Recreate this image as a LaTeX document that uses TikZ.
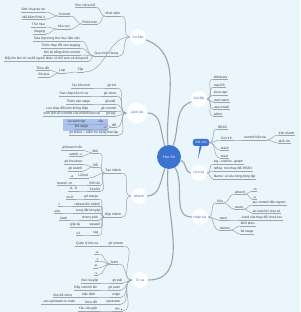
\documentclass[tikz,border=0pt]{standalone}
\usepackage{fontspec}
\setmainfont{Liberation Sans}
\definecolor{bgblue}{HTML}{EAF5FC}
\definecolor{hubblue}{HTML}{3C72D0}
\definecolor{boxblue}{HTML}{A9C2F2}
\definecolor{lineclr}{HTML}{9CA4AC}
\definecolor{txtgray}{HTML}{3A3F44}
\definecolor{topicblue}{HTML}{3866C8}
\begin{document}
\begin{tikzpicture}[x=1pt, y=-1pt,
    link/.style={draw=lineclr, line width=0.5pt},
    trunk/.style={draw=lineclr, line width=1.1pt},
    lab/.style={anchor=south east, inner sep=0.6pt, text=txtgray, font=\fontsize{3.3}{3.6}\selectfont,
        append after command={(\tikzlastnode.south west) edge[link] (\tikzlastnode.south east)}},
    rab/.style={lab, anchor=south west},
    branch/.style={circle, fill=white, text=topicblue, inner sep=0.5pt, minimum size=16, font=\fontsize{3.3}{3.6}\selectfont},
    hub/.style={circle, fill=hubblue, text=white, inner sep=0.5pt, minimum size=24, font=\fontsize{3.6}{4}\selectfont},
    memo/.style={rounded corners=2.5, fill=hubblue, text=white, inner xsep=2.5, inner ysep=1, minimum height=7, font=\fontsize{3.3}{3.6}\selectfont}]
    \useasboundingbox (0,0) rectangle (300,312);
    \fill[bgblue] (0,0) rectangle (300,312);

    % Centre
    \node[hub] (root) at (169,157) {Học Git};

    % Basics
    \node[branch] (basics) at (138,37) {Cơ bản};
    \node[lab] (ga) at (121,16) {Khái niệm};
    \node[lab] (ga1) at (96,7) {Kho chứa mã};
    \node[lab] (ga2) at (98,24) {Phiên bản};
    \node[lab] (ga21) at (71,16) {Commit};
    \node[lab] (ga22) at (71,29) {Khu vực};
    \node[lab] (ga211) at (46,12) {Ảnh chụp dự án};
    \node[lab] (ga212) at (46,19) {Mã băm SHA-1};
    \node[lab] (ga221) at (46,27) {Thư mục};
    \node[lab] (ga222) at (46,34) {Staging};
    \node[lab] (gb) at (119,56) {Quy trình chung};
    \node[lab] (gb1) at (81,41) {Sửa tệp trong thư mục làm việc};
    \node[lab] (gb2) at (81,48) {Thêm thay đổi vào staging};
    \node[lab] (gb3) at (81,55) {Ghi lại bằng lệnh commit};
    \node[lab] (gb4) at (89,61) {Đẩy lên kho từ xa để người khác có thể xem và dùng mã};
    \node[lab] (gc) at (84,72) {Tệp};
    \node[lab] (gc1) at (66,73) {Loại};
    \node[lab] (gc11) at (50,70) {Theo dõi};
    \node[lab] (gc12) at (50,77) {Bỏ qua};

    % Commands
    \node[branch, minimum size=21] (cmds) at (137,113) {Lệnh Git};
    \fill[boxblue] (63,119) rectangle (108,131);
    \node[lab] (d1) at (117,88) {git init};
    \node[lab] (d1a) at (91,88) {Tạo kho mới};
    \node[lab] (d2) at (117,96) {git clone};
    \node[lab] (d2a) at (89,96) {Sao chép kho từ xa};
    \node[lab] (d3) at (116,104) {git add};
    \node[lab] (d3a) at (91,104) {Thêm vào stage};
    \node[lab] (d4) at (117,111) {git commit};
    \node[lab] (d4a) at (89,111) {Lưu thay đổi kèm thông điệp};
    \node[lab] (d5) at (116,116) {git log};
    \node[lab] (d5a) at (101,116) {Xem lịch sử commit của nhánh hiện tại};
    \node[lab] (d6) at (117,127) {diff};
    \node[lab] (d6a) at (104,124) {tệp};
    \node[lab] (d6a1) at (86,124) {So sánh tệp};
    \node[lab] (d6b) at (107,129) {-s};
    \node[lab] (d6b1) at (89,129) {Đã stage};
    \node[lab] (d7) at (119,135) {git status – kiểm tra trạng thái tệp};

    % Branches
    \node[branch] (branches) at (139,196) {Nhánh};
    \node[lab] (e1) at (122,173) {Tạo nhánh};
    \node[lab] (e1a) at (99,153) {Mới};
    \node[lab] (e1a1) at (83,150) {git branch tên};
    \node[lab] (e1a2) at (83,156) {switch -c};
    \node[lab] (e1b) at (99,167) {Đổi};
    \node[lab] (e1b1) at (83,164) {git checkout};
    \node[lab] (e1b2) at (83,171) {git switch};
    \node[lab] (e1c) at (89,178) {Liệt kê};
    \node[lab] (e1c1) at (74,178) {-a};
    \node[lab] (e1d) at (101,185) {Đổi tên};
    \node[lab] (e1d1) at (73,185) {branch -m};
    \node[lab] (e1e) at (101,191) {Xóa bỏ};
    \node[lab] (e1e1) at (78,191) {-d, -D};
    \node[lab] (e2) at (122,217) {Gộp nhánh};
    \node[lab] (e2a) at (99,199) {git merge};
    \node[lab] (e2a1) at (74,199) {no-ff};
    \node[lab] (e2b) at (101,206) {rebase lên nhánh};
    \node[lab] (e2b1) at (61,206) {-i};
    \node[lab] (e2c) at (101,213) {xung đột khi gộp};
    \node[lab] (e2c1) at (61,213) {sửa};
    \node[lab] (e2d) at (99,220) {cherry-pick};
    \node[lab] (e2d1) at (68,220) {hash};
    \node[lab] (e2e) at (101,227) {squash};
    \node[lab] (e2e1) at (81,227) {gộp lại};
    \node[lab] (e2f) at (99,235) {tag};
    \node[lab] (e2f1) at (81,235) {v1};

    % Remote
    \node[branch] (remote) at (140,280) {Từ xa};
    \node[lab] (f1) at (124,246) {git remote};
    \node[lab] (f1a) at (99,246) {Quản lý kho xa};
    \node[lab] (f2) at (119,264) {fetch};
    \node[lab] (f2a) at (99,254) {-a};
    \node[lab] (f2b) at (99,261) {-t};
    \node[lab] (f2c) at (98,268) {-p};
    \node[lab] (f2d) at (98,275) {-v};
    \node[lab] (f3) at (123,283) {git pull};
    \node[lab] (f3a) at (99,283) {Kéo và gộp};
    \node[lab] (f4) at (121,290) {git push};
    \node[lab] (f4a) at (98,290) {Đẩy commit lên};
    \node[lab] (f5) at (121,297) {origin};
    \node[lab] (f5a) at (96,297) {mặc định};
    \node[lab] (f5b) at (73,297) {kho đã clone};
    \node[lab] (f6) at (121,304) {upstream};
    \node[lab] (f6a) at (98,304) {theo dõi};
    \node[lab] (f6b) at (76,304) {--set-upstream-to main};
    \node[lab] (f7) at (123,311) {PR \textcolor{txtgray}{\rule{1.6pt}{1.6pt}}};
    \node[lab] (f7a) at (98,311) {Yêu cầu gộp};

    % Setup
    \node[branch] (setup) at (199,99) {Cài đặt};
    \node[rab] (g1) at (213,79) {Windows};
    \node[rab] (g2) at (213,87) {macOS};
    \node[rab] (g3) at (213,95) {Linux apt};
    \node[rab] (g4) at (213,102) {user.name};
    \node[rab] (g5) at (213,109) {user.email};
    \node[rab] (g6) at (213,116) {editor};

    % Note
    \node[memo] (note) at (201,142.5) {Ghi chú};
    \node[rab] (c1) at (217,129) {HEAD};
    \node[rab] (c2) at (220,140) {Con trỏ};
    \node[rab] (c2a) at (243,140) {commit hiện tại};
    \node[rab] (c2a1) at (278,135) {trên nhánh};
    \node[rab] (c2a2) at (278,143) {tách rời};
    \node[rab] (c3) at (220,150) {stash};
    \node[rab] (c4) at (220,158) {reset};

    % History
    \node[branch] (history) at (199,173) {Lịch sử};
    \node[rab] (i1) at (213,164) {log --oneline --graph};
    \node[rab] (i2) at (213,171) {reflog: mọi thay đổi HEAD};
    \node[rab] (i3) at (213,179) {blame: ai sửa từng dòng tệp};

    % Undo
    \node[branch] (undo) at (200,217) {Hoàn tác};
    \node[rab] (j1) at (216,203) {Sửa};
    \node[rab] (j1a) at (234,194) {amend};
    \node[rab] (j1a1) at (252,191) {-m};
    \node[rab] (j1a2) at (252,199) {-a};
    \node[rab] (j1b) at (234,209) {revert};
    \node[rab] (j1b1) at (252,205) {tạo commit đảo ngược};
    \node[rab] (j1b2) at (252,213) {an toàn khi chia sẻ};
    \node[rab] (j2) at (219,220) {reset};
    \node[rab] (j2a) at (240,220) {--hard xóa thay đổi chưa lưu};
    \node[rab] (j3) at (219,230) {restore};
    \node[rab] (j3a) at (240,226) {khôi phục};
    \node[rab] (j3b) at (240,234) {bỏ stage};

    % Callout tail
    \coordinate (tip) at (198,159);
    \fill[hubblue] ([xshift=-1.4]note.south) -- (tip) -- ([xshift=0.6]note.south) -- cycle;

    % Main branches
    \draw[trunk] (root) to[out=95,in=-20] (basics);
    \draw[trunk] (root) to[out=110,in=0] (cmds);
    \draw[trunk] (root) to[out=250,in=0] (branches);
    \draw[trunk] (root) to[out=265,in=0] (remote);
    \draw[trunk] (root) to[out=70,in=200] (setup);
    \draw[trunk] (root) to[out=-15,in=180] (history);
    \draw[trunk] (root) to[out=-60,in=180] (undo);

    % Left connections
    \foreach \c in {ga,gb,gc} \draw[link] (basics.west) to[out=180,in=0] (\c.south east);
    \foreach \c in {d1,d2,d3,d4,d5,d6,d7} \draw[link] (cmds.west) to[out=180,in=0] (\c.south east);
    \foreach \c in {e1,e2} \draw[link] (branches.west) to[out=180,in=0] (\c.south east);
    \foreach \c in {f1,f2,f3,f4,f5,f6,f7} \draw[link] (remote.west) to[out=180,in=0] (\c.south east);
    \foreach \p/\c in {ga/ga1, ga/ga2, ga2/ga21, ga2/ga22, ga21/ga211, ga21/ga212, ga22/ga221, ga22/ga222,
            gb/gb1, gb/gb2, gb/gb3, gb/gb4, gc/gc1, gc1/gc11, gc1/gc12,
            d1/d1a, d2/d2a, d3/d3a, d4/d4a, d5/d5a, d6/d6a, d6/d6b, d6a/d6a1, d6b/d6b1,
            e1/e1a, e1/e1b, e1/e1c, e1/e1d, e1/e1e, e1a/e1a1, e1a/e1a2, e1b/e1b1, e1b/e1b2,
            e1c/e1c1, e1d/e1d1, e1e/e1e1,
            e2/e2a, e2/e2b, e2/e2c, e2/e2d, e2/e2e, e2/e2f, e2a/e2a1, e2b/e2b1, e2c/e2c1,
            e2d/e2d1, e2e/e2e1, e2f/e2f1,
            f1/f1a, f2/f2a, f2/f2b, f2/f2c, f2/f2d, f3/f3a, f4/f4a, f5/f5a, f5a/f5b,
            f6/f6a, f6a/f6b, f7/f7a}
        \draw[link] (\p.south west) to[out=180,in=0] (\c.south east);

    % Right connections
    \foreach \c in {g1,g2,g3,g4,g5,g6} \draw[link] (setup.east) to[out=0,in=180] (\c.south west);
    \foreach \c in {c1,c2,c3,c4} \draw[link] (note.east) to[out=0,in=180] (\c.south west);
    \foreach \c in {i1,i2,i3} \draw[link] (history.east) to[out=0,in=180] (\c.south west);
    \foreach \c in {j1,j2,j3} \draw[link] (undo.east) to[out=0,in=180] (\c.south west);
    \foreach \p/\c in {c2/c2a, c2a/c2a1, c2a/c2a2, j1/j1a, j1/j1b, j1a/j1a1, j1a/j1a2,
            j1b/j1b1, j1b/j1b2, j2/j2a, j3/j3a, j3/j3b}
        \draw[link] (\p.south east) to[out=0,in=180] (\c.south west);
\end{tikzpicture}
\end{document}
